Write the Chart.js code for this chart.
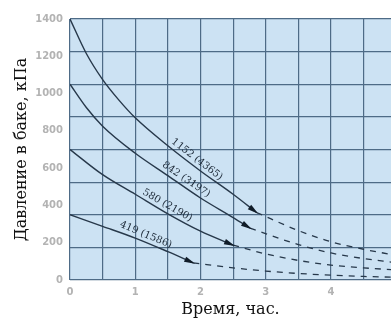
<!DOCTYPE html>
<html>
<head>
<meta charset="utf-8">
<script src="https://cdn.jsdelivr.net/npm/chart.js@4.4.1/dist/chart.umd.min.js"></script>
<style>
  html, body { margin: 0; padding: 0; background: #fff; }
  #wrap { width: 391px; height: 322px; }
</style>
</head>
<body>
<div id="wrap"><canvas id="chart1"></canvas></div>
<script>
// Кривые давления: подпись, сплошной участок и пунктирное продолжение
var curveNames = ["1152 (4365)", "842 (3197)", "580 (2190)", "419 (1586)"];

var solid1 = [[0, 1400], [0.25, 1215], [0.5, 1075], [0.75, 965], [1, 870], [1.5, 720], [2, 585], [2.5, 460], [2.86, 362]];
var dash1 = [[2.86, 362], [3.5, 265], [4, 205], [4.5, 165], [4.95, 135]];

var solid2 = [[0, 1050], [0.25, 925], [0.5, 825], [1, 680], [1.5, 560], [2, 440], [2.5, 335], [2.76, 278]];
var dash2 = [[2.76, 278], [3.5, 190], [4, 145], [4.5, 115], [4.95, 95]];

var solid3 = [[0, 700], [0.5, 565], [1, 460], [1.5, 355], [2, 262], [2.5, 187]];
var dash3 = [[2.5, 187], [3, 140], [3.5, 105], [4, 80], [4.5, 65], [4.95, 55]];

var solid4 = [[0, 350], [0.5, 288], [1, 225], [1.5, 152], [1.89, 92]];
var dash4 = [[1.89, 92], [2.5, 65], [3, 48], [3.5, 35], [4, 26], [4.5, 19], [4.95, 15]];

// где вдоль оси времени стоит подпись каждой кривой
var labelAt = [1.88, 1.72, 1.44, 1.12];

var solids = [solid1, solid2, solid3, solid4];
var dashes = [dash1, dash2, dash3, dash4];

// подписи осей и шаг сетки (сетка квадратная, не совпадает с делениями)
var xTicks = [0, 1, 2, 3, 4];
var yTicks = [0, 200, 400, 600, 800, 1000, 1200, 1400];
var yGrid = [0, 175, 350, 525, 700, 875, 1050, 1225, 1400];

function pts(arr) {
    return arr.map(function (p) { return { x: p[0], y: p[1] }; });
}

var lineColor = "#27384a";
var datasets = [];
solids.forEach(function (s, i) {
    datasets.push({
        label: curveNames[i],
        data: pts(s),
        borderColor: lineColor,
        borderWidth: 1.4,
        pointRadius: 0,
        cubicInterpolationMode: "monotone",
        fill: false
    });
});
dashes.forEach(function (d, i) {
    datasets.push({
        label: curveNames[i] + " *",
        data: pts(d),
        borderColor: lineColor,
        borderWidth: 1.3,
        borderDash: [6, 6],
        pointRadius: 0,
        cubicInterpolationMode: "monotone",
        fill: false
    });
});

// голубой фон области графика
var plotBg = {
    id: "plotBg",
    beforeDraw: function (chart) {
        var a = chart.chartArea, ctx = chart.ctx;
        ctx.save();
        ctx.fillStyle = "#cce2f3";
        ctx.fillRect(a.left, a.top, a.right - a.left, a.bottom - a.top);
        ctx.restore();
    }
};

function interp(arr, x) {
    for (var k = 0; k < arr.length - 1; k++) {
        if (x >= arr[k][0] && x <= arr[k + 1][0]) {
            var f = (x - arr[k][0]) / (arr[k + 1][0] - arr[k][0]);
            return arr[k][1] + f * (arr[k + 1][1] - arr[k][1]);
        }
    }
    return arr[arr.length - 1][1];
}

// стрелки на концах сплошных линий и подписи вдоль кривых
var curveMarks = {
    id: "curveMarks",
    afterDatasetsDraw: function (chart) {
        var ctx = chart.ctx;
        var xs = chart.scales.x, ys = chart.scales.y;
        ctx.save();
        for (var i = 0; i < solids.length; i++) {
            var s = solids[i];
            var end = s[s.length - 1];
            var px = xs.getPixelForValue(end[0]), py = ys.getPixelForValue(end[1]);
            var bx = xs.getPixelForValue(end[0] - 0.15);
            var by = ys.getPixelForValue(interp(s, end[0] - 0.15));
            var ang = Math.atan2(py - by, px - bx);
            ctx.save();
            ctx.translate(px, py);
            ctx.rotate(ang);
            ctx.fillStyle = "#101c28";
            ctx.beginPath();
            ctx.moveTo(2, 0);
            ctx.lineTo(-9, -2.8);
            ctx.lineTo(-9, 2.8);
            ctx.closePath();
            ctx.fill();
            ctx.restore();

            // подпись над кривой
            var t = labelAt[i];
            var lx = xs.getPixelForValue(t), ly = ys.getPixelForValue(interp(s, t));
            var l2x = xs.getPixelForValue(t + 0.1), l2y = ys.getPixelForValue(interp(s, t + 0.1));
            var la = Math.atan2(l2y - ly, l2x - lx);
            ctx.save();
            ctx.translate(lx, ly);
            ctx.rotate(la);
            ctx.fillStyle = "#1d2a38";
            ctx.font = "10px 'DejaVu Serif', serif";
            ctx.textAlign = "center";
            ctx.textBaseline = "bottom";
            ctx.fillText(curveNames[i], 0, -2);
            ctx.restore();
        }
        ctx.restore();
    }
};

var gridColor = "#4e6b86";
var tickFont = { size: 10, weight: "bold", family: "'DejaVu Sans', sans-serif" };
var titleFont = { size: 16, family: "'DejaVu Serif', serif" };

var config = {
    type: "line",
    data: { datasets: datasets },
    options: {
        responsive: true,
        maintainAspectRatio: false,
        animation: false,
        layout: { padding: { top: 19, right: 0, left: 0, bottom: 0 } },
        plugins: { legend: { display: false }, tooltip: { enabled: false } },
        scales: {
            x: {
                type: "linear",
                min: 0,
                max: 4.92,
                ticks: {
                    stepSize: 0.5,
                    includeBounds: false,
                    autoSkip: false,
                    maxRotation: 0,
                    color: "#b3b3b3",
                    font: tickFont,
                    padding: 6,
                    callback: function (v) { return xTicks.indexOf(v) >= 0 ? String(v) : ""; }
                },
                grid: { color: gridColor, lineWidth: 1.2, drawTicks: false },
                border: { display: false },
                title: {
                    display: true,
                    text: "Время, час.",
                    color: "#111",
                    font: titleFont,
                    padding: { top: 0, bottom: 3 }
                },
                afterFit: function (s) { s.height = 42; }
            },
            y: {
                min: 0,
                max: 1400,
                afterBuildTicks: function (s) {
                    var vals = yTicks.concat(yGrid.filter(function (v) { return yTicks.indexOf(v) < 0; }));
                    vals.sort(function (a, b) { return a - b; });
                    s.ticks = vals.map(function (v) { return { value: v }; });
                },
                ticks: {
                    autoSkip: false,
                    color: "#b3b3b3",
                    font: tickFont,
                    padding: 7,
                    callback: function (v) { return yTicks.indexOf(v) >= 0 ? String(v) : ""; }
                },
                grid: {
                    color: function (c) {
                        return c.tick && yGrid.indexOf(c.tick.value) >= 0 ? gridColor : "rgba(0,0,0,0)";
                    },
                    lineWidth: 1.2,
                    drawTicks: false
                },
                border: { display: false },
                title: {
                    display: true,
                    text: "Давление в баке, кПа",
                    color: "#111",
                    font: titleFont,
                    padding: { top: 12, bottom: 0 }
                },
                afterFit: function (s) { s.width = 70; }
            }
        }
    },
    plugins: [plotBg, curveMarks]
};

var ctxChart1 = document.getElementById("chart1").getContext("2d");
new Chart(ctxChart1, config);
</script>
</body>
</html>
